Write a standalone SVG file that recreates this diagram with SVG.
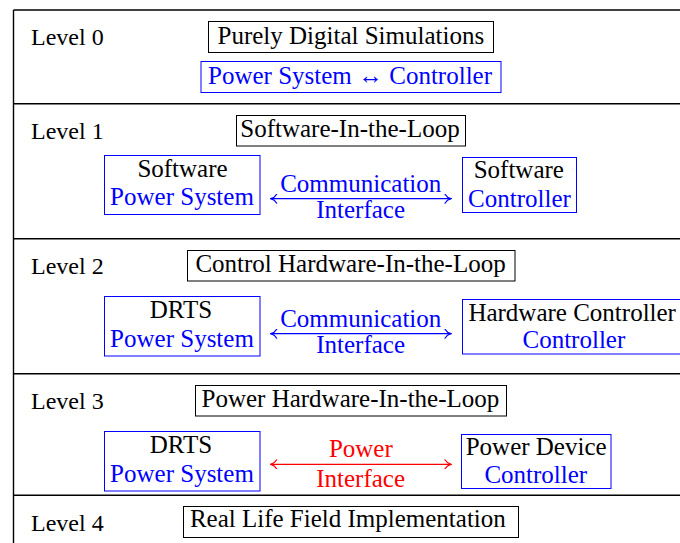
<svg xmlns="http://www.w3.org/2000/svg" width="680" height="543" viewBox="0 0 680 543">
  <style>
    .frame { stroke: #000; stroke-width: 1.4; fill: none; }
    .box { fill: #fff; stroke: #000; stroke-width: 1; }
    .bbox { fill: #fff; stroke: #00f; stroke-width: 1; }
    .k { fill: #000; }
    .b { fill: #00f; }
    .r { fill: #f00; }
    .link-b { stroke: #00f; stroke-width: 1.2; fill: none; }
    .link-r { stroke: #f00; stroke-width: 1.2; fill: none; }
  </style>
  <defs>
    <marker id="tip-b" viewBox="-7 -5 8 10" refX="0" refY="0" markerWidth="8" markerHeight="10" markerUnits="userSpaceOnUse" orient="auto-start-reverse">
      <path d="M-6,-4.5 C-4.5,-1.8 -1.5,-0.4 0,0 C-1.5,0.4 -4.5,1.8 -6,4.5" fill="none" stroke="#00f" stroke-width="1.2" stroke-linecap="round"/>
    </marker>
    <marker id="tip-r" viewBox="-7 -5 8 10" refX="0" refY="0" markerWidth="8" markerHeight="10" markerUnits="userSpaceOnUse" orient="auto-start-reverse">
      <path d="M-6,-4.5 C-4.5,-1.8 -1.5,-0.4 0,0 C-1.5,0.4 -4.5,1.8 -6,4.5" fill="none" stroke="#f00" stroke-width="1.2" stroke-linecap="round"/>
    </marker>
  </defs>

  <rect width="680" height="543" fill="#fff"/>

  <!-- level table frame -->
  <g id="frame" class="frame">
    <line x1="13.5" y1="10" x2="13.5" y2="543"/>
    <line x1="13.5" y1="10" x2="680" y2="10"/>
    <line x1="13.5" y1="103.7" x2="680" y2="103.7"/>
    <line x1="13.5" y1="238.7" x2="680" y2="238.7"/>
    <line x1="13.5" y1="373.7" x2="680" y2="373.7"/>
    <line x1="13.5" y1="495.3" x2="680" y2="495.3"/>
  </g>

  <!-- level labels -->
  <g id="labels" class="k" font-family="Liberation Serif" font-size="24">
    <text x="31" y="45">Level 0</text>
    <text x="31" y="139.3">Level 1</text>
    <text x="31" y="274.3">Level 2</text>
    <text x="31" y="409.3">Level 3</text>
    <text x="31" y="530.7">Level 4</text>
  </g>

  <g font-family="Liberation Serif" font-size="25">
    <!-- Level 0 -->
    <g id="l0-title">
      <rect class="box" x="208.5" y="21.5" width="285" height="31"/>
      <text class="k" x="217.5" y="43.5">Purely Digital Simulations</text>
    </g>
    <g id="l0-sim">
      <rect class="bbox" x="201" y="61.5" width="300" height="31"/>
      <text class="b" x="208" y="83.5">Power System ↔ Controller</text>
    </g>

    <!-- Level 1 -->
    <g id="l1-title">
      <rect class="box" x="236.5" y="115.5" width="229" height="30.5"/>
      <text class="k" x="240.3" y="136.7">Software-In-the-Loop</text>
    </g>
    <g id="l1-plant">
      <rect class="bbox" x="104.5" y="155.5" width="155.5" height="59"/>
      <text class="k" x="137.4" y="177.3">Software</text>
      <text class="b" x="110.1" y="205">Power System</text>
    </g>
    <g id="l1-ctrl">
      <rect class="bbox" x="462.5" y="157.5" width="114" height="55"/>
      <text class="k" x="473.7" y="178.3">Software</text>
      <text class="b" x="468.1" y="206.7">Controller</text>
    </g>

    <!-- Level 2 -->
    <g id="l2-title">
      <rect class="box" x="187.5" y="250.5" width="327.5" height="30.5"/>
      <text class="k" x="195.4" y="271.7">Control Hardware-In-the-Loop</text>
    </g>
    <g id="l2-plant">
      <rect class="bbox" x="104.5" y="296.5" width="155.5" height="59.5"/>
      <text class="k" x="149.8" y="317.7">DRTS</text>
      <text class="b" x="110.1" y="346.7">Power System</text>
    </g>
    <g id="l2-ctrl">
      <rect class="bbox" x="462.5" y="299.5" width="225" height="54.5"/>
      <text class="k" x="468.4" y="321">Hardware Controller</text>
      <text class="b" x="522.5" y="348.3">Controller</text>
    </g>

    <!-- Level 3 -->
    <g id="l3-title">
      <rect class="box" x="195.5" y="385.5" width="311" height="30.5"/>
      <text class="k" x="201.5" y="406.7">Power Hardware-In-the-Loop</text>
    </g>
    <g id="l3-plant">
      <rect class="bbox" x="104.5" y="431.5" width="155.5" height="59.5"/>
      <text class="k" x="149.8" y="452.7">DRTS</text>
      <text class="b" x="110.1" y="481.7">Power System</text>
    </g>
    <g id="l3-ctrl">
      <rect class="bbox" x="461.5" y="434.5" width="149.5" height="54"/>
      <text class="k" x="465.7" y="455">Power Device</text>
      <text class="b" x="484.4" y="483.3">Controller</text>
    </g>

    <!-- Level 4 -->
    <g id="l4-title">
      <rect class="box" x="183.5" y="506.5" width="335" height="31"/>
      <text class="k" x="189.9" y="526.7">Real Life Field Implementation</text>
    </g>

    <!-- interfaces between plant and controller -->
    <g id="connectors">
      <path class="link-b" d="M270.7,198.7 H451" marker-start="url(#tip-b)" marker-end="url(#tip-b)"/>
      <text class="b" x="280.2" y="191.7">Communication</text>
      <text class="b" x="316.2" y="218.3">Interface</text>

      <path class="link-b" d="M270.7,333.7 H451" marker-start="url(#tip-b)" marker-end="url(#tip-b)"/>
      <text class="b" x="280.2" y="326.7">Communication</text>
      <text class="b" x="316.2" y="353.3">Interface</text>

      <path class="link-r" d="M270.7,464.3 H451" marker-start="url(#tip-r)" marker-end="url(#tip-r)"/>
      <text class="r" x="328.9" y="457.3">Power</text>
      <text class="r" x="316.2" y="486.7">Interface</text>
    </g>
  </g>
</svg>
